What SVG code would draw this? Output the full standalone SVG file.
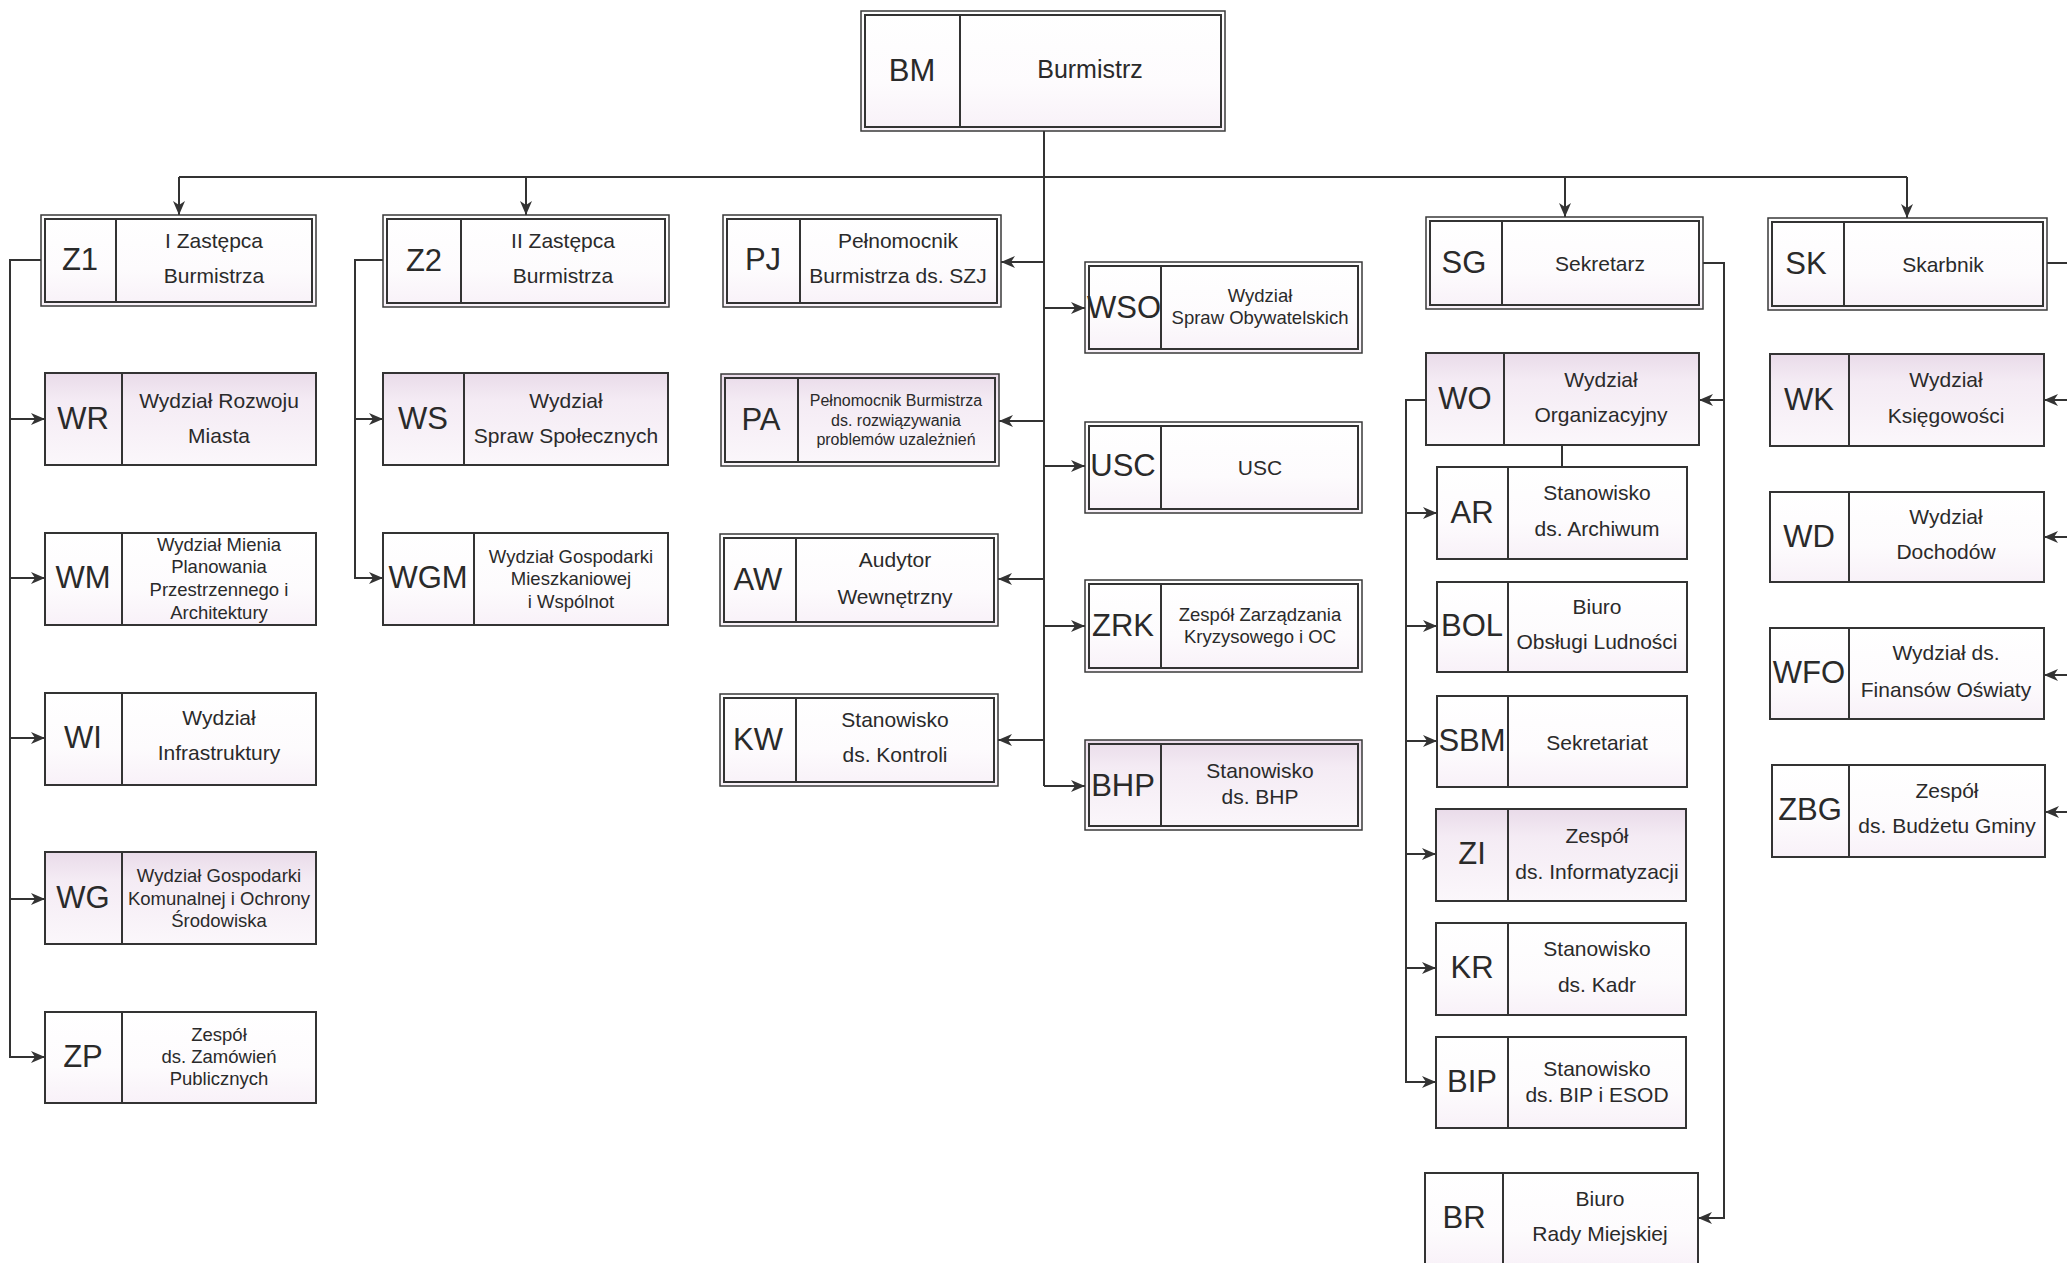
<svg xmlns="http://www.w3.org/2000/svg" width="2067" height="1263" viewBox="0 0 2067 1263">
<defs>
<linearGradient id="pale" x1="0" y1="0" x2="0" y2="1"><stop offset="0" stop-color="#ffffff"/><stop offset="0.6" stop-color="#fdfbfd"/><stop offset="1" stop-color="#f8f1f8"/></linearGradient>
<linearGradient id="tint" x1="0" y1="0" x2="0" y2="1"><stop offset="0" stop-color="#e9dbe9"/><stop offset="0.3" stop-color="#f4ebf4"/><stop offset="1" stop-color="#fbf7fb"/></linearGradient>
<marker id="ah" markerWidth="14" markerHeight="12" refX="14" refY="6" orient="auto" markerUnits="userSpaceOnUse"><path d="M0,0 L14,6 L0,12 L4,6 z" fill="#333"/></marker>
</defs>
<style>
.o{fill:url(#pale);stroke:#3a3a3a;stroke-width:1.5}
.i{fill:none;stroke:#333;stroke-width:2}
.s{fill:url(#pale);stroke:#333;stroke-width:2}
.tn{fill:url(#tint)}
.d{stroke:#333;stroke-width:2}
.c{font-family:"Liberation Sans",Arial,sans-serif;font-size:31px;fill:#2a2a2a;text-anchor:middle;dominant-baseline:central}
.t{font-family:"Liberation Sans",Arial,sans-serif;font-size:21px;fill:#2a2a2a;text-anchor:middle;dominant-baseline:central}
.t3{font-size:18.5px}
.t4{font-size:16px}
.cn{fill:none;stroke:#333;stroke-width:2}
.ar{marker-end:url(#ah)}
</style>
<rect width="2067" height="1263" fill="#ffffff"/>

<g id="connectors">
<path class="cn" d="M1044,131 V786"/>
<path class="cn" d="M179,177 H1907"/>
<path class="cn ar" d="M179,177 V215"/>
<path class="cn ar" d="M526,177 V215"/>
<path class="cn ar" d="M1565,177 V217"/>
<path class="cn ar" d="M1907,177 V218"/>
<path class="cn ar" d="M1044,262 H1001"/>
<path class="cn ar" d="M1044,421 H999"/>
<path class="cn ar" d="M1044,579 H998"/>
<path class="cn ar" d="M1044,740 H998"/>
<path class="cn ar" d="M1044,308 H1085"/>
<path class="cn ar" d="M1044,466 H1085"/>
<path class="cn ar" d="M1044,626 H1085"/>
<path class="cn ar" d="M1044,786 H1085"/>
<path class="cn ar" d="M41,260 H10 V1057 H45"/>
<path class="cn ar" d="M10,419 H45"/>
<path class="cn ar" d="M10,578 H45"/>
<path class="cn ar" d="M10,738 H45"/>
<path class="cn ar" d="M10,899 H45"/>
<path class="cn ar" d="M383,260 H355 V578 H383"/>
<path class="cn ar" d="M355,419 H383"/>
<path class="cn ar" d="M1703,263 H1724 V1218 H1698"/>
<path class="cn ar" d="M1724,400 H1699"/>
<path class="cn ar" d="M1426,400 H1406 V1082 H1436"/>
<path class="cn ar" d="M1406,513 H1437"/>
<path class="cn ar" d="M1406,626 H1437"/>
<path class="cn ar" d="M1406,741 H1437"/>
<path class="cn ar" d="M1406,854 H1436"/>
<path class="cn ar" d="M1406,968 H1436"/>
<path class="cn" d="M1562,445 V467"/>
<path class="cn ar" d="M2047,263 H2080 V812 H2045"/>
<path class="cn ar" d="M2080,400 H2044"/>
<path class="cn ar" d="M2080,537 H2044"/>
<path class="cn ar" d="M2080,675 H2044"/>
</g>

<g id="BM"><rect class="o" x="861" y="11" width="364" height="120"/><rect class="i" x="865" y="15" width="356" height="112"/><line class="d" x1="960" y1="15" x2="960" y2="127"/><text class="c" x="912" y="70">BM</text><text class="t" style="font-size:25px" x="1090" y="69">Burmistrz</text></g>

<g id="Z1"><rect class="o" x="41" y="215" width="275" height="91"/><rect class="i" x="45" y="219" width="267" height="83"/><line class="d" x1="116" y1="219" x2="116" y2="302"/><text class="c" x="80" y="259">Z1</text><text class="t" x="214" y="240">I Zastępca</text><text class="t" x="214" y="275">Burmistrza</text></g>

<g id="Z2"><rect class="o" x="383" y="215" width="286" height="92"/><rect class="i" x="387" y="219" width="278" height="84"/><line class="d" x1="461" y1="219" x2="461" y2="303"/><text class="c" x="424" y="260">Z2</text><text class="t" x="563" y="240">II Zastępca</text><text class="t" x="563" y="275">Burmistrza</text></g>

<g id="PJ"><rect class="o" x="723" y="215" width="278" height="92"/><rect class="i" x="727" y="219" width="270" height="84"/><line class="d" x1="800" y1="219" x2="800" y2="303"/><text class="c" x="763" y="259">PJ</text><text class="t" x="898" y="240">Pełnomocnik</text><text class="t" x="898" y="275">Burmistrza ds. SZJ</text></g>

<g id="WSO"><rect class="o" x="1085" y="262" width="277" height="91"/><rect class="i" x="1089" y="266" width="269" height="83"/><line class="d" x1="1161" y1="266" x2="1161" y2="349"/><text class="c" x="1124" y="307">WSO</text><text class="t t3" x="1260" y="295">Wydział</text><text class="t t3" x="1260" y="317">Spraw Obywatelskich</text></g>

<g id="PA"><rect class="o tn" x="721" y="374" width="278" height="92"/><rect class="i" x="725" y="378" width="270" height="84"/><line class="d" x1="798" y1="378" x2="798" y2="462"/><text class="c" x="761" y="419">PA</text><text class="t t4" x="896" y="400">Pełnomocnik Burmistrza</text><text class="t t4" x="896" y="420">ds. rozwiązywania</text><text class="t t4" x="896" y="439">problemów uzależnień</text></g>

<g id="USC"><rect class="o" x="1085" y="422" width="277" height="91"/><rect class="i" x="1089" y="426" width="269" height="83"/><line class="d" x1="1161" y1="426" x2="1161" y2="509"/><text class="c" x="1123" y="465">USC</text><text class="t" x="1260" y="467">USC</text></g>

<g id="AW"><rect class="o" x="720" y="534" width="278" height="92"/><rect class="i" x="724" y="538" width="270" height="84"/><line class="d" x1="796" y1="538" x2="796" y2="622"/><text class="c" x="758" y="579">AW</text><text class="t" x="895" y="559">Audytor</text><text class="t" x="895" y="596">Wewnętrzny</text></g>

<g id="ZRK"><rect class="o" x="1085" y="580" width="277" height="92"/><rect class="i" x="1089" y="584" width="269" height="84"/><line class="d" x1="1161" y1="584" x2="1161" y2="668"/><text class="c" x="1123" y="625">ZRK</text><text class="t t3" x="1260" y="614">Zespół Zarządzania</text><text class="t t3" x="1260" y="636">Kryzysowego i OC</text></g>

<g id="KW"><rect class="o" x="720" y="694" width="278" height="92"/><rect class="i" x="724" y="698" width="270" height="84"/><line class="d" x1="796" y1="698" x2="796" y2="782"/><text class="c" x="758" y="739">KW</text><text class="t" x="895" y="719">Stanowisko</text><text class="t" x="895" y="754">ds. Kontroli</text></g>

<g id="BHP"><rect class="o tn" x="1085" y="740" width="277" height="90"/><rect class="i" x="1089" y="744" width="269" height="82"/><line class="d" x1="1161" y1="744" x2="1161" y2="826"/><text class="c" x="1123" y="785">BHP</text><text class="t" x="1260" y="770">Stanowisko</text><text class="t" x="1260" y="796">ds. BHP</text></g>

<g id="SG"><rect class="o" x="1426" y="217" width="277" height="92"/><rect class="i" x="1430" y="221" width="269" height="84"/><line class="d" x1="1502" y1="221" x2="1502" y2="305"/><text class="c" x="1464" y="262">SG</text><text class="t" x="1600" y="263">Sekretarz</text></g>

<g id="SK"><rect class="o" x="1768" y="218" width="279" height="92"/><rect class="i" x="1772" y="222" width="271" height="84"/><line class="d" x1="1844" y1="222" x2="1844" y2="306"/><text class="c" x="1806" y="263">SK</text><text class="t" x="1943" y="264">Skarbnik</text></g>

<g id="WR"><rect class="s tn" x="45" y="373" width="271" height="92"/><line class="d" x1="122" y1="373" x2="122" y2="465"/><text class="c" x="83" y="418">WR</text><text class="t" x="219" y="400">Wydział Rozwoju</text><text class="t" x="219" y="435">Miasta</text></g>

<g id="WM"><rect class="s" x="45" y="533" width="271" height="92"/><line class="d" x1="122" y1="533" x2="122" y2="625"/><text class="c" x="83" y="577">WM</text><text class="t t3" x="219" y="544">Wydział Mienia</text><text class="t t3" x="219" y="566">Planowania</text><text class="t t3" x="219" y="589">Przestrzennego i</text><text class="t t3" x="219" y="612">Architektury</text></g>

<g id="WI"><rect class="s" x="45" y="693" width="271" height="92"/><line class="d" x1="122" y1="693" x2="122" y2="785"/><text class="c" x="83" y="737">WI</text><text class="t" x="219" y="717">Wydział</text><text class="t" x="219" y="752">Infrastruktury</text></g>

<g id="WG"><rect class="s tn" x="45" y="852" width="271" height="92"/><line class="d" x1="122" y1="852" x2="122" y2="944"/><text class="c" x="83" y="897">WG</text><text class="t t3" x="219" y="875">Wydział Gospodarki</text><text class="t t3" x="219" y="898">Komunalnej i Ochrony</text><text class="t t3" x="219" y="920">Środowiska</text></g>

<g id="ZP"><rect class="s" x="45" y="1012" width="271" height="91"/><line class="d" x1="122" y1="1012" x2="122" y2="1103"/><text class="c" x="83" y="1056">ZP</text><text class="t t3" x="219" y="1034">Zespół</text><text class="t t3" x="219" y="1056">ds. Zamówień</text><text class="t t3" x="219" y="1078">Publicznych</text></g>

<g id="WS"><rect class="s tn" x="383" y="373" width="285" height="92"/><line class="d" x1="464" y1="373" x2="464" y2="465"/><text class="c" x="423" y="418">WS</text><text class="t" x="566" y="400">Wydział</text><text class="t" x="566" y="435">Spraw Społecznych</text></g>

<g id="WGM"><rect class="s" x="383" y="533" width="285" height="92"/><line class="d" x1="474" y1="533" x2="474" y2="625"/><text class="c" x="428" y="577">WGM</text><text class="t t3" x="571" y="556">Wydział Gospodarki</text><text class="t t3" x="571" y="578">Mieszkaniowej</text><text class="t t3" x="571" y="601">i Wspólnot</text></g>

<g id="WO"><rect class="s tn" x="1426" y="353" width="273" height="92"/><line class="d" x1="1504" y1="353" x2="1504" y2="445"/><text class="c" x="1465" y="398">WO</text><text class="t" x="1601" y="379">Wydział</text><text class="t" x="1601" y="414">Organizacyjny</text></g>

<g id="AR"><rect class="s" x="1437" y="467" width="250" height="92"/><line class="d" x1="1508" y1="467" x2="1508" y2="559"/><text class="c" x="1472" y="512">AR</text><text class="t" x="1597" y="492">Stanowisko</text><text class="t" x="1597" y="528">ds. Archiwum</text></g>

<g id="BOL"><rect class="s" x="1437" y="582" width="250" height="90"/><line class="d" x1="1508" y1="582" x2="1508" y2="672"/><text class="c" x="1472" y="625">BOL</text><text class="t" x="1597" y="606">Biuro</text><text class="t" x="1597" y="641">Obsługi Ludności</text></g>

<g id="SBM"><rect class="s" x="1437" y="696" width="250" height="91"/><line class="d" x1="1508" y1="696" x2="1508" y2="787"/><text class="c" x="1472" y="740">SBM</text><text class="t" x="1597" y="742">Sekretariat</text></g>

<g id="ZI"><rect class="s tn" x="1436" y="809" width="250" height="92"/><line class="d" x1="1508" y1="809" x2="1508" y2="901"/><text class="c" x="1472" y="853">ZI</text><text class="t" x="1597" y="835">Zespół</text><text class="t" x="1597" y="871">ds. Informatyzacji</text></g>

<g id="KR"><rect class="s" x="1436" y="923" width="250" height="92"/><line class="d" x1="1508" y1="923" x2="1508" y2="1015"/><text class="c" x="1472" y="967">KR</text><text class="t" x="1597" y="948">Stanowisko</text><text class="t" x="1597" y="984">ds. Kadr</text></g>

<g id="BIP"><rect class="s" x="1436" y="1037" width="250" height="91"/><line class="d" x1="1508" y1="1037" x2="1508" y2="1128"/><text class="c" x="1472" y="1081">BIP</text><text class="t" x="1597" y="1068">Stanowisko</text><text class="t" x="1597" y="1094">ds. BIP i ESOD</text></g>

<g id="BR"><rect class="s" x="1425" y="1173" width="273" height="96"/><line class="d" x1="1503" y1="1173" x2="1503" y2="1269"/><text class="c" x="1464" y="1217">BR</text><text class="t" x="1600" y="1198">Biuro</text><text class="t" x="1600" y="1233">Rady Miejskiej</text></g>

<g id="WK"><rect class="s tn" x="1770" y="354" width="274" height="92"/><line class="d" x1="1849" y1="354" x2="1849" y2="446"/><text class="c" x="1809" y="399">WK</text><text class="t" x="1946" y="379">Wydział</text><text class="t" x="1946" y="415">Księgowości</text></g>

<g id="WD"><rect class="s" x="1770" y="492" width="274" height="90"/><line class="d" x1="1849" y1="492" x2="1849" y2="582"/><text class="c" x="1809" y="536">WD</text><text class="t" x="1946" y="516">Wydział</text><text class="t" x="1946" y="551">Dochodów</text></g>

<g id="WFO"><rect class="s" x="1770" y="628" width="274" height="91"/><line class="d" x1="1849" y1="628" x2="1849" y2="719"/><text class="c" x="1809" y="672">WFO</text><text class="t" x="1946" y="652">Wydział ds.</text><text class="t" x="1946" y="689">Finansów Oświaty</text></g>

<g id="ZBG"><rect class="s" x="1772" y="765" width="273" height="92"/><line class="d" x1="1849" y1="765" x2="1849" y2="857"/><text class="c" x="1810" y="809">ZBG</text><text class="t" x="1947" y="790">Zespół</text><text class="t" x="1947" y="825">ds. Budżetu Gminy</text></g>
</svg>
